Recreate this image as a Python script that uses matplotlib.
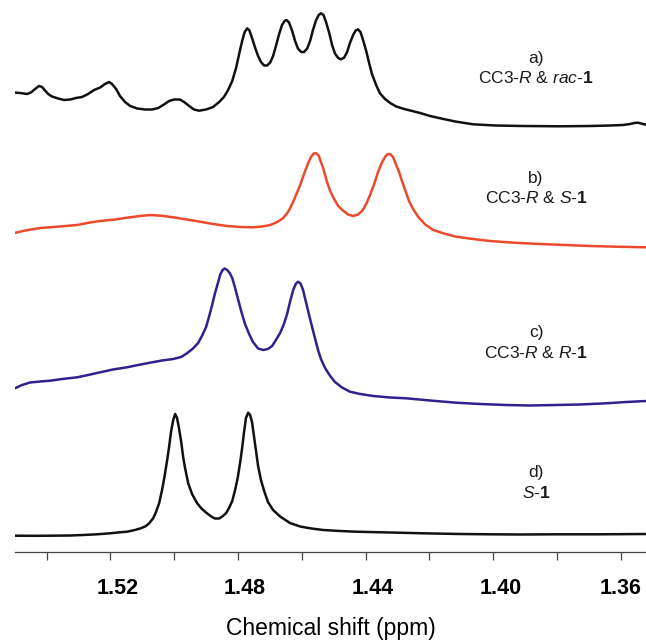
import matplotlib
matplotlib.use("Agg")
import matplotlib.pyplot as plt
import matplotlib.transforms as mtransforms

plt.rcParams['font.family'] = ['Liberation Sans', 'DejaVu Sans']
plt.rcParams['mathtext.fontset'] = 'custom'
plt.rcParams['mathtext.rm'] = 'Liberation Sans'
plt.rcParams['mathtext.it'] = 'Liberation Sans:italic'
plt.rcParams['mathtext.bf'] = 'Liberation Sans:bold'

# Спектры: химический сдвиг (ppm) и интенсивность относительно базовой линии справа
ppm_a = [1.5502, 1.5483, 1.5461, 1.5449, 1.5436, 1.5424, 1.5414, 1.5405, 1.5395, 1.5383,
         1.5364, 1.5345, 1.5326, 1.5308, 1.5289, 1.5270, 1.5251, 1.5232, 1.5217, 1.5204,
         1.5195, 1.5182, 1.5170, 1.5154, 1.5138, 1.5116, 1.5091, 1.5069, 1.5050, 1.5032,
         1.5016, 1.5000, 1.4982, 1.4969, 1.4953, 1.4938, 1.4922, 1.4900, 1.4878, 1.4859,
         1.4844, 1.4831, 1.4818, 1.4806, 1.4797, 1.4787, 1.4779, 1.4771, 1.4764, 1.4756,
         1.4746, 1.4737, 1.4728, 1.4718, 1.4709, 1.4699, 1.4690, 1.4681, 1.4671, 1.4662,
         1.4654, 1.4648, 1.4640, 1.4630, 1.4621, 1.4612, 1.4602, 1.4593, 1.4583, 1.4574,
         1.4565, 1.4555, 1.4547, 1.4540, 1.4532, 1.4524, 1.4514, 1.4505, 1.4496, 1.4486,
         1.4477, 1.4467, 1.4458, 1.4449, 1.4439, 1.4431, 1.4424, 1.4416, 1.4408, 1.4398,
         1.4389, 1.4380, 1.4367, 1.4355, 1.4339, 1.4323, 1.4304, 1.4279, 1.4254, 1.4229,
         1.4198, 1.4166, 1.4119, 1.4063, 1.3994, 1.3906, 1.3790, 1.3696, 1.3634, 1.3593,
         1.3571, 1.3558, 1.3546, 1.3533, 1.3521]
int_a = [33.5, 33.0, 32.0, 33.5, 37.0, 40.0, 39.0, 35.5, 32.0, 29.5,
         27.5, 26.0, 26.5, 28.0, 29.0, 32.0, 36.0, 38.5, 42.0, 44.0,
         42.0, 37.0, 30.0, 24.0, 20.0, 17.5, 16.5, 16.5, 18.0, 21.5,
         25.0, 26.5, 26.5, 24.0, 20.0, 16.5, 15.3, 16.5, 19.0, 24.0,
         29.0, 36.0, 45.0, 58.0, 71.0, 85.0, 94.0, 97.7, 95.5, 88.0,
         78.0, 70.0, 64.0, 60.5, 60.5, 63.5, 70.0, 80.0, 92.0, 101.0,
         105.0, 106.0, 103.5, 95.0, 85.0, 77.5, 74.0, 74.0, 77.5, 85.0,
         96.0, 106.0, 111.0, 112.7, 111.0, 104.0, 93.0, 81.0, 72.5, 68.0,
         66.7, 68.5, 74.0, 83.0, 91.0, 95.5, 96.7, 94.0, 86.0, 75.0,
         63.0, 52.0, 41.0, 32.7, 27.0, 23.0, 19.5, 17.0, 15.0, 13.0,
         10.0, 7.7, 4.5, 1.7, 0.5, 0.0, -0.3, 0.0, 0.5, 1.0,
         2.0, 3.0, 3.3, 2.2, 1.3]

ppm_b = [1.5505, 1.5467, 1.5420, 1.5358, 1.5304, 1.5264, 1.5232, 1.5185, 1.5148, 1.5107,
         1.5076, 1.5038, 1.5003, 1.4960, 1.4919, 1.4878, 1.4834, 1.4793, 1.4753, 1.4724,
         1.4699, 1.4677, 1.4659, 1.4643, 1.4630, 1.4618, 1.4605, 1.4593, 1.4580, 1.4571,
         1.4563, 1.4555, 1.4547, 1.4540, 1.4533, 1.4521, 1.4511, 1.4502, 1.4486, 1.4471,
         1.4455, 1.4439, 1.4424, 1.4411, 1.4398, 1.4386, 1.4373, 1.4361, 1.4348, 1.4337,
         1.4330, 1.4322, 1.4314, 1.4304, 1.4295, 1.4286, 1.4276, 1.4264, 1.4251, 1.4235,
         1.4213, 1.4188, 1.4154, 1.4116, 1.4063, 1.4010, 1.3931, 1.3853, 1.3775, 1.3696,
         1.3602, 1.3521]
int_b = [14.0, 16.8, 19.3, 20.8, 22.3, 24.8, 26.3, 27.8, 29.6, 31.3,
         32.3, 31.5, 30.0, 27.8, 25.6, 23.3, 21.3, 20.3, 20.0, 20.8,
         22.3, 25.3, 29.0, 35.3, 43.3, 52.3, 62.3, 73.3, 84.3, 90.3,
         93.8, 94.0, 91.8, 85.3, 79.3, 65.3, 56.3, 50.3, 41.3, 36.8,
         32.8, 31.3, 32.8, 36.3, 43.3, 52.3, 63.3, 75.3, 85.3, 91.3,
         93.3, 93.0, 90.3, 82.3, 75.3, 66.3, 57.3, 46.3, 38.3, 30.3,
         22.8, 17.3, 13.8, 10.6, 8.3, 6.3, 4.5, 3.3, 2.3, 1.3,
         0.5, 0.0]

ppm_c = [1.5499, 1.5477, 1.5452, 1.5420, 1.5389, 1.5351, 1.5304, 1.5270, 1.5232, 1.5192,
         1.5148, 1.5113, 1.5076, 1.5038, 1.5003, 1.4978, 1.4960, 1.4941, 1.4925, 1.4913,
         1.4900, 1.4891, 1.4881, 1.4872, 1.4862, 1.4855, 1.4848, 1.4842, 1.4834, 1.4826,
         1.4818, 1.4809, 1.4800, 1.4790, 1.4778, 1.4765, 1.4753, 1.4737, 1.4721, 1.4706,
         1.4693, 1.4681, 1.4668, 1.4656, 1.4646, 1.4637, 1.4627, 1.4619, 1.4612, 1.4604,
         1.4596, 1.4587, 1.4577, 1.4568, 1.4558, 1.4549, 1.4540, 1.4527, 1.4511, 1.4496,
         1.4474, 1.4449, 1.4417, 1.4376, 1.4323, 1.4273, 1.4198, 1.4116, 1.4041, 1.3960,
         1.3884, 1.3803, 1.3728, 1.3646, 1.3583, 1.3521]
int_c = [16.7, 20.0, 22.5, 23.5, 24.3, 26.0, 27.7, 30.0, 32.7, 35.5,
         37.7, 40.0, 42.3, 44.5, 46.0, 48.0, 51.7, 56.5, 62.0, 69.0,
         78.0, 88.0, 100.0, 112.0, 123.0, 131.0, 135.0, 136.5, 135.0, 132.0,
         127.0, 117.0, 106.0, 94.0, 81.0, 71.0, 63.0, 56.5, 55.0, 56.0,
         59.0, 65.0, 72.0, 81.0, 91.0, 103.0, 115.0, 121.0, 123.3, 121.5,
         115.0, 103.0, 90.0, 78.3, 66.0, 55.0, 46.0, 37.0, 29.0, 23.0,
         17.5, 13.3, 11.0, 9.0, 7.5, 6.7, 4.5, 2.3, 1.0, 0.0,
         -0.5, 0.0, 0.5, 1.7, 3.0, 4.0]

ppm_d = [1.5499, 1.5436, 1.5389, 1.5326, 1.5286, 1.5242, 1.5201, 1.5170, 1.5148, 1.5123,
         1.5107, 1.5091, 1.5079, 1.5066, 1.5057, 1.5047, 1.5038, 1.5030, 1.5022, 1.5016,
         1.5010, 1.5003, 1.4997, 1.4991, 1.4985, 1.4978, 1.4972, 1.4966, 1.4956, 1.4944,
         1.4928, 1.4913, 1.4897, 1.4884, 1.4872, 1.4859, 1.4847, 1.4837, 1.4828, 1.4818,
         1.4809, 1.4801, 1.4793, 1.4787, 1.4781, 1.4775, 1.4768, 1.4762, 1.4756, 1.4750,
         1.4743, 1.4737, 1.4728, 1.4718, 1.4706, 1.4690, 1.4668, 1.4637, 1.4605, 1.4574,
         1.4533, 1.4480, 1.4430, 1.4323, 1.4220, 1.4104, 1.4010, 1.3916, 1.3803, 1.3665,
         1.3521]
int_d = [-1.7, -1.8, -1.7, -1.5, -1.0, -0.3, 0.7, 1.7, 2.3, 4.0,
         5.5, 7.5, 10.5, 15.7, 22.0, 31.0, 44.0, 58.0, 74.0, 87.0,
         102.0, 114.0, 120.0, 116.0, 106.0, 92.0, 77.3, 66.0, 50.7, 40.0,
         30.7, 25.0, 20.7, 17.5, 15.5, 15.5, 18.0, 21.0, 26.0, 33.0,
         44.0, 56.0, 72.0, 86.0, 102.0, 116.0, 121.3, 119.0, 112.0, 98.0,
         82.0, 68.0, 54.0, 43.0, 32.0, 24.0, 17.5, 11.0, 7.5, 5.7,
         4.0, 3.0, 2.3, 1.5, 0.7, 0.0, -0.3, -0.5, -0.3, -0.3,
         0.0]

offsets = [425.7, 304.4, 146.7, 17.7]
colors = ['#111111', '#EB4A2C', '#32208C', '#111111']
labels = [("a)", r"CC3-$\mathit{R}$ & $\mathit{rac}$-$\mathbf{1}$"),
          ("b)", r"CC3-$\mathit{R}$ & $\mathit{S}$-$\mathbf{1}$"),
          ("c)", r"CC3-$\mathit{R}$ & $\mathit{R}$-$\mathbf{1}$"),
          ("d)", r"$\mathit{S}$-$\mathbf{1}$")]
label_y = [58, 178, 333, 473]  # пиксели сверху, первая строка подписи

ticks = [1.54, 1.52, 1.50, 1.48, 1.46, 1.44, 1.42, 1.40, 1.38, 1.36]
tick_labels = ["", "1.52", "", "1.48", "", "1.44", "", "1.40", "", "1.36"]

W, H = 646, 641
fig = plt.figure(figsize=(W / 100, H / 100), dpi=100)
ax = fig.add_axes([15 / W, (H - 551.7) / H, 1 - 15 / W, 551.7 / H])

spectra = [(ppm_a, int_a), (ppm_b, int_b), (ppm_c, int_c), (ppm_d, int_d)]
for (p, v), off, col in zip(spectra, offsets, colors):
    ax.plot(p, [y + off for y in v], color=col, lw=1.8,
            solid_joinstyle='round', solid_capstyle='round')

ax.set_xlim(1.5499, 1.3521)
ax.set_ylim(0, 551.7)
for s in ['left', 'right', 'top']:
    ax.spines[s].set_visible(False)
ax.spines['bottom'].set_color('#444444')
ax.spines['bottom'].set_linewidth(0.9)
ax.set_yticks([])
ax.set_xticks(ticks)
ax.set_xticklabels(tick_labels, fontsize=15.5, fontweight='bold')
ax.tick_params(axis='x', direction='out', length=5.8, width=0.9, color='#444444', pad=13)
# подписи в оригинале немного сдвинуты вправо от засечек (кроме последней)
shift = mtransforms.ScaledTranslation(7 / 100, 0, fig.dpi_scale_trans)
for lab in ax.get_xticklabels()[:-1]:
    lab.set_transform(lab.get_transform() + shift)

for (l1, l2), y in zip(labels, label_y):
    fig.text(536 / W, 1 - y / H, l1, ha='center', va='center', fontsize=12.5, color='#1a1a1a')
    fig.text(536 / W, 1 - (y + 20) / H, l2, ha='center', va='center', fontsize=12.5, color='#1a1a1a')

fig.text(330.5 / W, 1 - 628 / H, "Chemical shift (ppm)", ha='center', va='center', fontsize=16.5)

plt.savefig("out.png", dpi=100)
